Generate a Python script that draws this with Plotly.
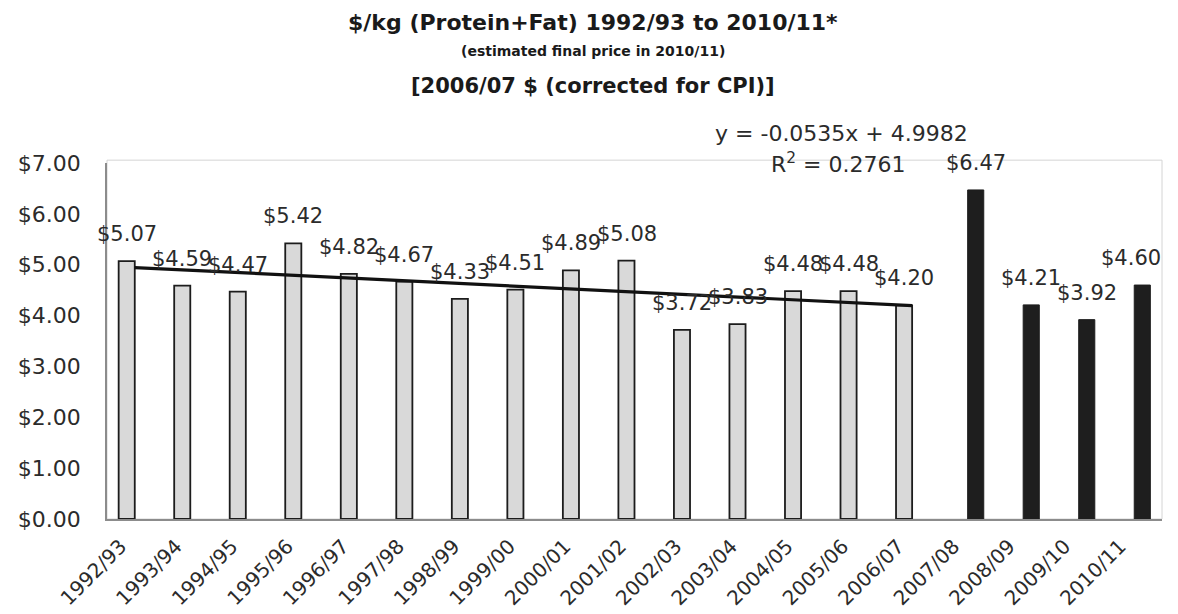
import plotly.graph_objects as go

# ---- data ----
seasons = ["1992/93", "1993/94", "1994/95", "1995/96", "1996/97", "1997/98",
           "1998/99", "1999/00", "2000/01", "2001/02", "2002/03", "2003/04",
           "2004/05", "2005/06", "2006/07", "2007/08", "2008/09", "2009/10",
           "2010/11"]
historic_price = [5.07, 4.59, 4.47, 5.42, 4.82, 4.67, 4.33, 4.51, 4.89, 5.08,
                  3.72, 3.83, 4.48, 4.48, 4.20, None, None, None, None]
recent_price = [None] * 15 + [6.47, 4.21, 3.92, 4.60]
trend_slope = -0.0535
trend_intercept = 4.9982
trend_r2 = 0.2761
y_ticks = [0, 1, 2, 3, 4, 5, 6, 7]
y_tick_text = ["$0.00", "$1.00", "$2.00", "$3.00", "$4.00", "$5.00", "$6.00", "$7.00"]

FONT = "DejaVu Sans"
TXT = "#2b2b2b"

fig = go.Figure()
fig.add_trace(go.Bar(
    x=seasons, y=historic_price, name="historic",
    marker=dict(color="#d9d9d9", line=dict(color="#1c1c1c", width=1.8)),
))
fig.add_trace(go.Bar(
    x=seasons, y=recent_price, name="recent",
    marker=dict(color="#1e1e1e", line=dict(color="#1e1e1e", width=1)),
))

# linear trendline over 1992/93..2006/07 (x = 1..15)
trend_x = [seasons[0], seasons[14]]
trend_y = [trend_slope * 1 + trend_intercept, trend_slope * 15 + trend_intercept]
fig.add_trace(go.Scatter(x=trend_x, y=trend_y, mode="lines",
                         line=dict(color="#111111", width=3.2), hoverinfo="skip"))

annotations = []
for s, v in zip(seasons, historic_price):
    if v is not None:
        annotations.append(dict(x=s, y=v, xref="x", yref="y", text=f"${v:.2f}",
                                showarrow=False, yanchor="bottom", xanchor="center",
                                xshift=-8, yshift=13,
                                font=dict(family=FONT, size=21, color=TXT)))
n_recent = sum(v is not None for v in recent_price)
k = 0
for s, v in zip(seasons, recent_price):
    if v is not None:
        k += 1
        annotations.append(dict(x=s, y=v, xref="x", yref="y", text=f"${v:.2f}",
                                showarrow=False, yanchor="bottom", xanchor="center",
                                xshift=(-3 if k == n_recent else 8), yshift=13,
                                font=dict(family=FONT, size=21, color=TXT)))

# titles and trendline label
annotations += [
    dict(x=0.461, y=1.396, xref="paper", yref="paper", showarrow=False,
         xanchor="center", yanchor="middle",
         text="<b>$/kg (Protein+Fat) 1992/93 to 2010/11*</b>",
         font=dict(family=FONT, size=22, color="#1a1a1a")),
    dict(x=0.461, y=1.315, xref="paper", yref="paper", showarrow=False,
         xanchor="center", yanchor="middle",
         text="<b>(estimated final price in 2010/11)</b>",
         font=dict(family=FONT, size=14, color="#1a1a1a")),
    dict(x=0.461, y=1.216, xref="paper", yref="paper", showarrow=False,
         xanchor="center", yanchor="middle",
         text="<b>[2006/07 $ (corrected for CPI)]</b>",
         font=dict(family=FONT, size=21, color="#1a1a1a")),
    dict(x=0.696, y=1.084, xref="paper", yref="paper", showarrow=False,
         xanchor="center", yanchor="middle",
         text=f"y = {trend_slope}x + {trend_intercept}",
         font=dict(family=FONT, size=22, color=TXT)),
    dict(x=0.693, y=1.0, xref="paper", yref="paper", showarrow=False,
         xanchor="center", yanchor="middle",
         text=f"R<sup>2</sup> = {trend_r2}",
         font=dict(family=FONT, size=22, color=TXT)),
]

fig.update_layout(
    width=1170, height=606,
    margin=dict(l=99, r=16, t=155, b=95, autoexpand=False),
    paper_bgcolor="white", plot_bgcolor="white",
    barmode="group", bargap=0.42, bargroupgap=0,
    showlegend=False,
    annotations=annotations,
    shapes=[dict(type="rect", xref="paper", yref="paper", x0=0, x1=1, y0=0, y1=1.008,
                 line=dict(color="#d4d4d4", width=1), layer="below")],
)
fig.update_xaxes(
    type="category", categoryorder="array", categoryarray=seasons,
    range=[-0.5, len(seasons) - 0.5], automargin=False,
    showline=True, linecolor="#8c8c8c", linewidth=1.5,
    showgrid=False, ticks="", tickangle=-45,
    tickfont=dict(family=FONT, size=20, color=TXT),
    ticklabelstandoff=6, ticklabelshift=-14,
)
fig.update_yaxes(
    range=[0, 7], tickvals=y_ticks, ticktext=y_tick_text, automargin=False,
    showline=True, linecolor="#8c8c8c", linewidth=1.5,
    showgrid=False, zeroline=False, ticks="",
    tickfont=dict(family=FONT, size=22, color=TXT),
    ticklabelstandoff=20,
)

fig.write_html("out.html")
